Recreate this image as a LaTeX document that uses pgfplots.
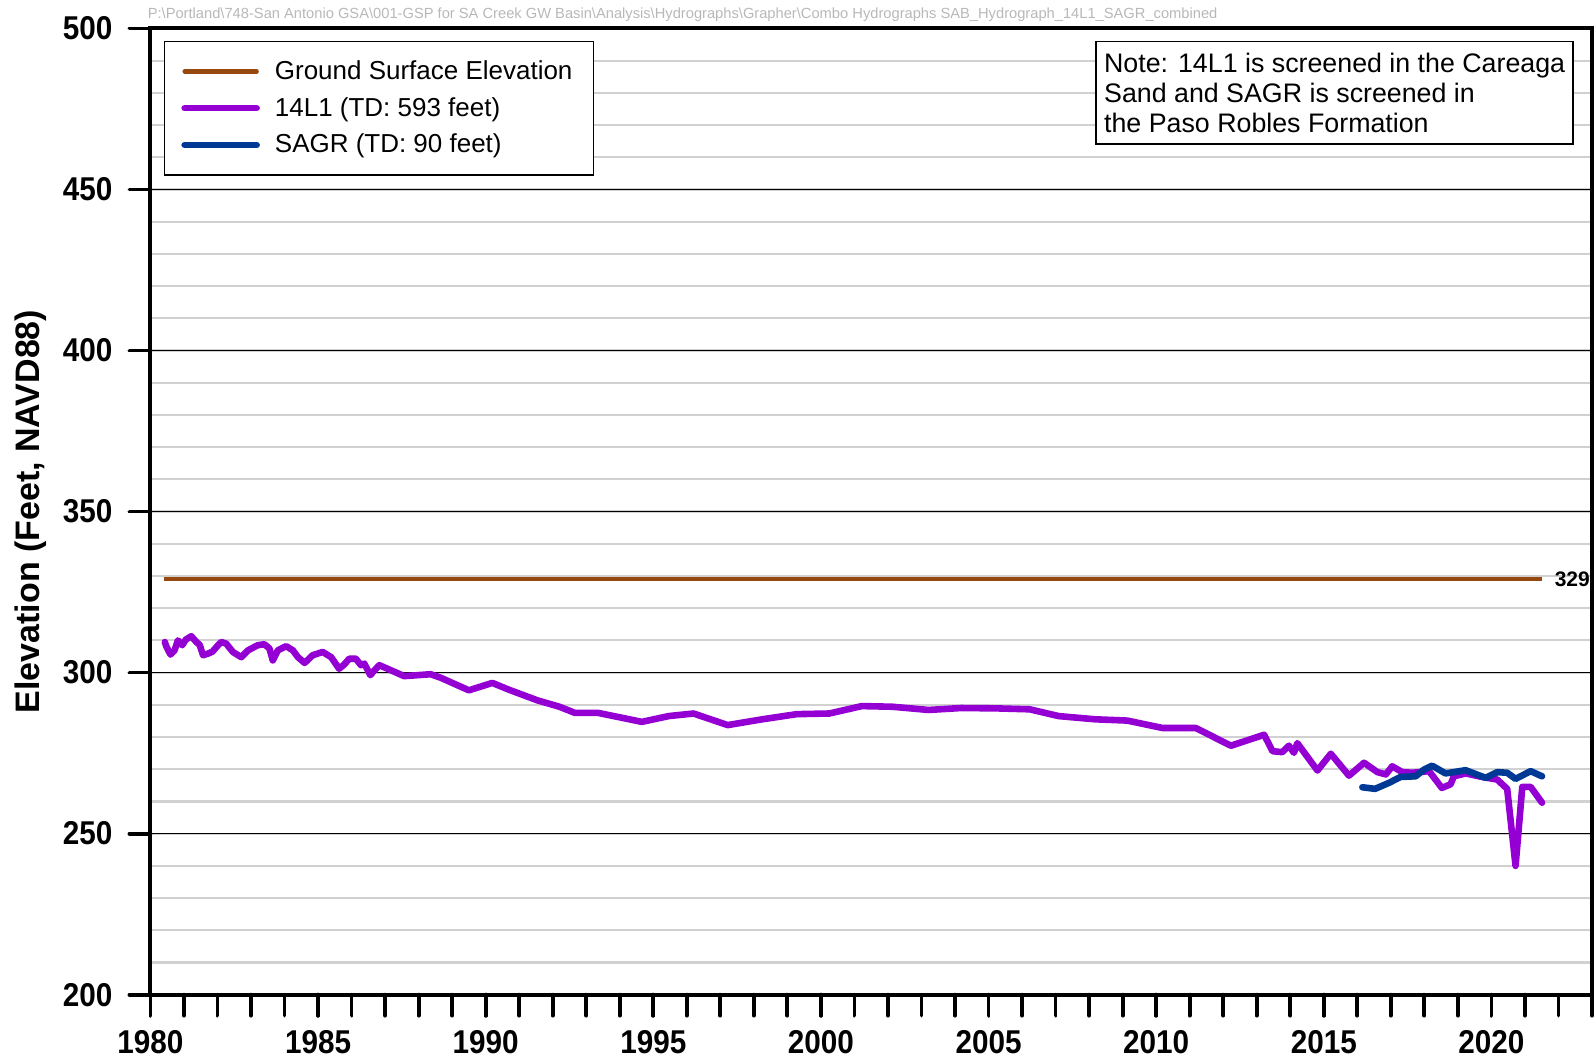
\documentclass[border=0pt]{standalone}
\usepackage{fontspec}
\setmainfont{Liberation Sans}
\newfontfamily\ticksfont[FakeStretch=0.9]{Liberation Sans}
\usepackage{pgfplots}
\pgfplotsset{compat=1.18}
\usetikzlibrary{calc}

\definecolor{gsebrown}{RGB}{150,72,14}
\definecolor{wellpurple}{RGB}{148,0,211}
\definecolor{wellblue}{RGB}{0,56,150}

\pgfplotstableread{
year elev
1980.43 309.5
1980.48 308.0
1980.60 305.6
1980.72 306.9
1980.82 310.0
1980.95 308.5
1981.05 310.2
1981.22 311.3
1981.37 309.5
1981.47 308.6
1981.57 305.4
1981.72 305.9
1981.85 306.5
1982.00 308.3
1982.11 309.5
1982.26 309.0
1982.46 306.4
1982.60 305.5
1982.71 304.8
1982.91 306.9
1983.20 308.5
1983.40 308.8
1983.55 307.5
1983.65 303.8
1983.80 306.9
1984.05 308.2
1984.25 306.9
1984.40 304.8
1984.60 303.0
1984.84 305.4
1985.14 306.4
1985.39 304.8
1985.63 301.2
1985.78 302.5
1985.93 304.3
1986.13 304.3
1986.28 302.3
1986.38 302.8
1986.56 299.2
1986.68 300.7
1986.83 302.3
1987.07 301.2
1987.57 298.9
1988.36 299.5
1988.66 298.4
1989.50 294.5
1990.20 296.8
1990.69 294.7
1991.54 291.4
1992.20 289.4
1992.66 287.5
1993.35 287.5
1994.66 284.7
1995.46 286.5
1996.20 287.3
1997.22 283.7
1998.25 285.5
1999.28 287.1
2000.25 287.3
2001.22 289.6
2002.13 289.4
2003.21 288.4
2004.18 289.0
2005.21 288.9
2006.23 288.6
2007.09 286.5
2008.18 285.5
2009.14 285.1
2010.19 282.8
2011.18 282.8
2012.23 277.3
2013.22 280.7
2013.47 275.6
2013.76 275.3
2013.96 277.3
2014.11 275.1
2014.21 278.1
2014.81 269.6
2015.21 274.8
2015.75 268.0
2016.20 272.0
2016.60 269.1
2016.85 268.4
2017.04 270.9
2017.34 269.1
2017.64 268.9
2018.14 269.4
2018.52 264.2
2018.78 265.3
2018.88 267.8
2019.23 268.7
2019.72 267.6
2020.17 266.8
2020.47 263.9
2020.72 240.0
2020.92 264.5
2021.17 264.5
2021.51 259.6
}\welllfourteen

\pgfplotstableread{
year elev
2016.15 264.4
2016.53 263.9
2016.95 265.8
2017.29 267.6
2017.74 267.8
2017.99 269.9
2018.23 271.1
2018.63 268.7
2019.23 269.7
2019.83 267.3
2020.17 269.1
2020.47 268.9
2020.72 267.0
2021.17 269.4
2021.51 267.8
}\wellsagr

\begin{document}
\begin{tikzpicture}
\begin{axis}[
  scale only axis,
  width=721.25pt, height=483.4pt,
  xmin=1980, xmax=2023, ymin=200, ymax=500,
  xtick={1980,1985,...,2020},
  minor xtick={1980,1981,...,2023},
  ytick={200,250,...,500},
  minor ytick={210,220,...,490},
  xtick pos=bottom, ytick pos=left,
  tick align=outside,
  major tick length=10.5pt, minor tick length=10.5pt,
  tick style={black, line width=1.9pt, line cap=round},
  minor y tick style={draw=none},
  axis line style={black, line width=2pt},
  ymajorgrids, yminorgrids,
  major grid style={black, line width=0.8pt},
  minor grid style={black!18, line width=1.1pt},
  /pgf/number format/1000 sep={},
  /pgf/number format/assume math mode=true,
  tick label style={font=\ticksfont\bfseries\fontsize{16.5}{18}\selectfont},
  xticklabel style={yshift=-6.8pt, inner ysep=0.5pt},
  yticklabel style={xshift=-5pt},
  ylabel={Elevation (Feet, NAVD88)},
  every axis y label/.style={at={(axis description cs:-0.0832,0.5)}, rotate=90,
    anchor=center, font=\bfseries\fontsize{17}{20}\selectfont},
  legend style={at={(0,1)}, anchor=north west, xshift=6.6pt, yshift=-6.1pt,
    draw=black, line width=0.8pt, fill=white,
    font=\fontsize{13}{15}\selectfont,
    inner xsep=8.5pt, inner ysep=7.5pt, row sep=3.5pt},
  legend cell align=left,
  legend image code/.code={\draw[#1, line cap=round] (0pt,0pt) -- (36pt,0pt);
    \path (41.5pt,0pt);},
  clip=false,
]
\addplot[gsebrown, line width=2.2pt] coordinates {(1980.40,329) (2021.50,329)};
\addlegendentry{Ground Surface Elevation}
\addplot[wellpurple, line width=3.3pt, line join=round, line cap=round]
  table[x=year, y=elev] {\welllfourteen};
\addlegendentry{14L1 (TD: 593 feet)}
\addplot[wellblue, line width=3.3pt, line join=round, line cap=round]
  table[x=year, y=elev] {\wellsagr};
\addlegendentry{SAGR (TD: 90 feet)}

\node[anchor=west, xshift=3pt, font=\bfseries\fontsize{10.5}{12}\selectfont]
  at (axis cs:2021.5,329) {329};

\node[draw=black, line width=0.8pt, fill=white, anchor=north east, align=left,
  font=\fontsize{13.4}{15}\selectfont, inner xsep=4pt, inner ysep=5.7pt]
  at ([xshift=-9pt,yshift=-6.1pt]rel axis cs:1,1)
  {Note: 14L1 is screened in the Careaga\\Sand and SAGR is screened in\\the Paso Robles Formation};

\node[anchor=base west, inner sep=0pt, text=black!28, font=\fontsize{7.35}{8}\selectfont]
  at ([xshift=-1.5pt,yshift=4.8pt]rel axis cs:0,1)
  {P:\textbackslash Portland\textbackslash 748-San Antonio GSA\textbackslash 001-GSP for SA Creek GW Basin\textbackslash Analysis\textbackslash Hydrographs\textbackslash Grapher\textbackslash Combo Hydrographs SAB\_Hydrograph\_14L1\_SAGR\_combined};

\coordinate (sw) at (rel axis cs:0,0);
\coordinate (ne) at (rel axis cs:1,1);
\end{axis}
\pgfresetboundingbox
\path[use as bounding box] ($(sw)+(-75.25pt,-33.85pt)$) rectangle ($(ne)+(1pt,14.25pt)$);
\end{tikzpicture}
\end{document}
